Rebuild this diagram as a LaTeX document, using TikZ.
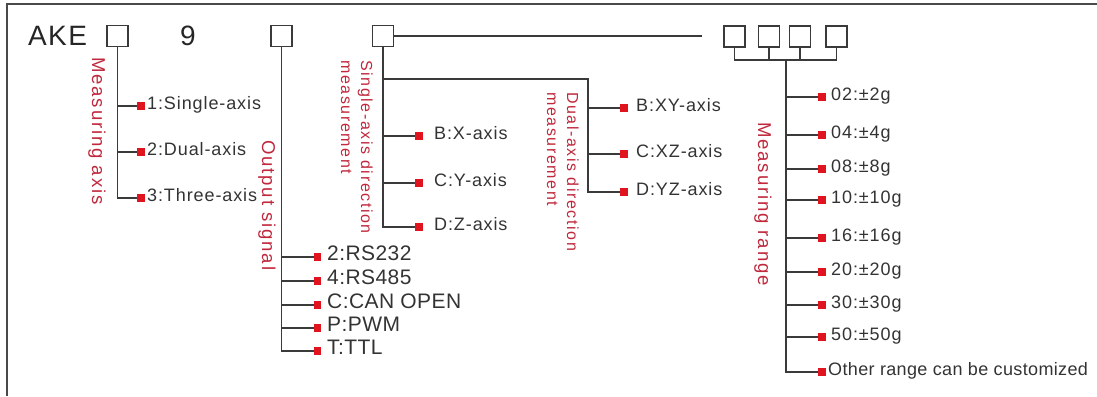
\documentclass[tikz,border=0pt]{standalone}
\usepackage{fontspec}
\setmainfont{Liberation Sans}
\newfontfamily\lsp{Liberation Sans}[LetterSpace=10]
\newfontfamily\lsq{Liberation Sans}[LetterSpace=5]
\newfontfamily\lsr{Liberation Sans}[LetterSpace=2]
\definecolor{ln}{HTML}{3A3A3A}
\definecolor{frm}{HTML}{4A4A4A}
\definecolor{txt}{HTML}{333333}
\definecolor{redtxt}{HTML}{C0283C}
\definecolor{redsq}{HTML}{E0141E}
\tikzset{
  conn/.style={draw=ln, line width=1.4pt},
  cbox/.style={draw=ln, line width=1.7pt, minimum width=21pt, minimum height=21pt, inner sep=0pt},
  sq/.style={fill=redsq, minimum size=7.5pt, inner sep=0pt},
  lbl/.style={anchor=mid west, inner sep=0pt, text=txt, font=\lsq\fontsize{18}{20}\selectfont},
  lbltight/.style={anchor=mid west, inner sep=0pt, text=txt, font=\lsr\fontsize{18}{20}\selectfont},
  lblbig/.style={anchor=mid west, inner sep=0pt, text=txt, font=\lsr\fontsize{21}{23}\selectfont},
  vlab/.style={rotate=-90, anchor=west, inner sep=0pt, text=redtxt, font=\lsp\fontsize{18.6}{20}\selectfont},
  vlab2/.style={rotate=-90, anchor=north west, inner sep=0pt, align=left, text=redtxt, font=\lsp\fontsize{16}{20}\selectfont},
  title/.style={anchor=base west, inner sep=0pt, text=black!85, font=\lsq\fontsize{28}{30}\selectfont}
}
\begin{document}
\begin{tikzpicture}[x=1pt,y=-1pt]
\useasboundingbox (0,0) rectangle (1097,396);
% frame
\draw[draw=frm, line width=2.5pt] (7,396) -- (7,4) -- (1097,4);
% title
\node[title] (ake) at (28,46) {AKE};
\node[title, anchor=base] (nine) at (188,46) {9};
% code boxes
\node[cbox] (b1) at (117.5,36) {};
\node[cbox] (b2) at (281.5,36) {};
\node[cbox] (b3) at (383,36) {};
\node[cbox] (b4) at (734.5,36.5) {};
\node[cbox] (b5) at (769,36.5) {};
\node[cbox] (b6) at (800,36.5) {};
\node[cbox] (b7) at (836.5,36.5) {};
\coordinate (tend) at (702,36);
\draw[conn] (b3.east) -- (tend);
% vertical red labels
\node[vlab] (vma) at (97,57) {Measuring axis};
\node[vlab] (vos) at (267,140) {Output signal};
\node[vlab] (vmr) at (763,122) {Measuring range};
\node[vlab2] (vsa) at (373,60) {Single-axis direction\\measurement};
\node[vlab2] (vda) at (579,92) {Dual-axis direction\\measurement};
% measuring axis
\foreach \n/\y/\t in {1/106/{1:Single-axis},2/152/{2:Dual-axis},3/198/{3:Three-axis}}{
  \node[sq] (ma\n) at (141,\y) {};
  \node[lbl] (mat\n) at (147,\y+1) {\t};
}
\draw[conn] (b1.south) |- (ma3.west);
\foreach \n in {1,2}{\draw[conn] (b1.south |- ma\n.west) -- (ma\n.west);}
% output signal
\foreach \n/\y/\t in {1/257/{2:RS232},2/281/{4:RS485},3/305/{C:CAN OPEN},4/328/{P:PWM},5/351/{T:TTL}}{
  \node[sq] (os\n) at (317.5,\y) {};
  \node[lblbig] (ost\n) at (327,\y+1) {\t};
}
\draw[conn] (b2.south) |- (os5.west);
\foreach \n in {1,2,3,4}{\draw[conn] (b2.south |- os\n.west) -- (os\n.west);}
% single-axis direction
\foreach \n/\y/\t in {1/136/{B:X-axis},2/183/{C:Y-axis},3/227/{D:Z-axis}}{
  \node[sq] (sa\n) at (419,\y) {};
  \node[lbl] (sat\n) at (434,\y+1) {\t};
}
\draw[conn] (b3.south) |- (sa3.west);
\foreach \n in {1,2}{\draw[conn] (b3.south |- sa\n.west) -- (sa\n.west);}
% dual-axis direction
\coordinate (dj) at (588,79);
\foreach \n/\y/\t in {1/108/{B:XY-axis},2/154/{C:XZ-axis},3/192/{D:YZ-axis}}{
  \node[sq] (da\n) at (624,\y) {};
  \node[lbl] (dat\n) at (636,\y+1) {\t};
}
\draw[conn] (b3.south |- dj) -- (dj) |- (da3.west);
\foreach \n in {1,2}{\draw[conn] (dj |- da\n.west) -- (da\n.west);}
% measuring range
\coordinate (br) at (786,60);
\draw[conn] (b4.south) -- (b4.south |- br) -- (b7.south |- br) -- (b7.south);
\draw[conn] (b5.south) -- (b5.south |- br);
\draw[conn] (b6.south) -- (b6.south |- br);
\foreach \n/\y/\t in {1/97/{02:±2g},2/135/{04:±4g},3/169/{08:±8g},4/200/{10:±10g},5/238/{16:±16g},6/272/{20:±20g},7/305/{30:±30g},8/337/{50:±50g}}{
  \node[sq] (r\n) at (822,\y) {};
  \node[lbl] (rt\n) at (831,\y+1) {\t};
}
\node[sq] (r9) at (822,372) {};
\node[lbltight] (rt9) at (828,373) {Other range can be customized};
\draw[conn] (br) |- (r9.west);
\foreach \n in {1,...,8}{\draw[conn] (br |- r\n.west) -- (r\n.west);}
\end{tikzpicture}
\end{document}
